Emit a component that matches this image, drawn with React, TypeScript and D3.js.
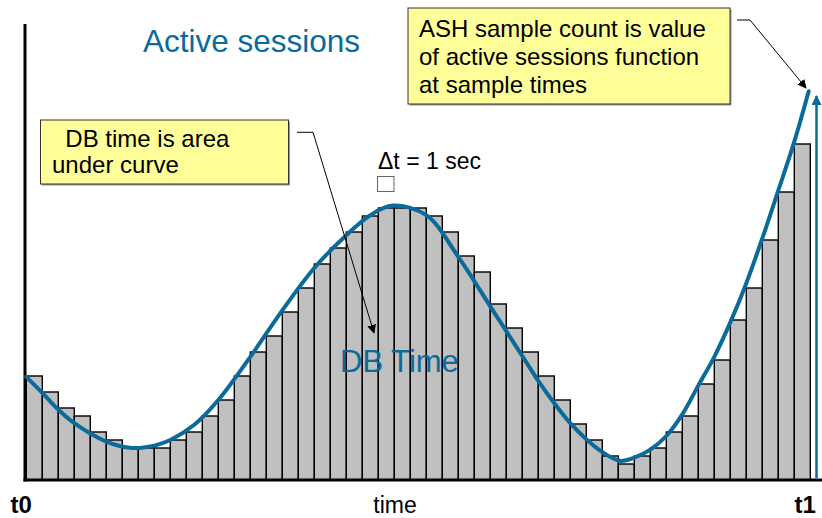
import { useEffect, useRef } from "react";
import * as d3 from "d3";

// ASH sample counts, one per 1 sec sample
const sampleCounts = [13, 11, 9, 8, 6, 5, 4, 4, 4, 5, 6, 8, 10, 13, 16, 18, 21, 24, 27, 29, 31, 33, 34, 34, 34,
  33, 31, 28, 26, 22, 19, 16, 13, 10, 7, 5, 3, 2, 3, 4, 6, 8, 12, 15, 20, 24, 30, 36, 42];

// active sessions function
const curveTimes = [0, 1, 2, 3, 5, 6.6, 8, 9, 10.5, 12, 14, 16, 18, 20, 21.5, 22.9, 25, 27, 29, 30, 31, 32,
  33, 34, 35, 36, 37.1, 38, 39, 40, 41, 42, 43, 44, 45, 46, 47, 48, 48.9];
const curveValues = [12.9, 10.9, 8.8, 7.1, 4.8, 4.0, 4.3, 5.0, 6.9, 10.0, 15.4, 21.2, 26.5, 30.6, 33.1, 34.3, 33.1,
  27.9, 21.7, 18.6, 15.5, 12.4, 9.6, 7.1, 5.1, 3.5, 2.4, 2.8, 3.8, 5.5, 8.2, 11.8, 15.4, 19.7, 24.6, 30.2, 36.2,
  42.3, 48.6];

const boxLeftLines = ["  DB time is area", "under curve"];
const boxRightLines = ["ASH sample count is value", "of active sessions function", "at sample times"];

const W = 822, H = 518;
const BLUE = "#0a6b9b";
const FONT = "'Liberation Sans', Arial, sans-serif";

const App = () => {
  const ref = useRef<SVGSVGElement>(null);

  useEffect(() => {
    if (!ref.current) return;
    const svg = d3.select(ref.current);
    svg.selectAll("*").remove();

    const x = d3.scaleLinear().domain([0, sampleCounts.length]).range([26.3, 810.3]);
    const y = d3.scaleLinear().domain([0, 57]).range([480, 24]);

    const defs = svg.append("defs");
    defs.append("marker").attr("id", "blk").attr("viewBox", "0 0 10 10")
      .attr("refX", 9).attr("refY", 5).attr("markerWidth", 9).attr("markerHeight", 9)
      .attr("markerUnits", "userSpaceOnUse").attr("orient", "auto")
      .append("path").attr("d", "M0,0 L10,5 L0,10 z").attr("fill", "#000");
    defs.append("marker").attr("id", "blu").attr("viewBox", "0 0 10 10")
      .attr("refX", 9).attr("refY", 5).attr("markerWidth", 10).attr("markerHeight", 10)
      .attr("markerUnits", "userSpaceOnUse").attr("orient", "auto")
      .append("path").attr("d", "M0,0 L10,5 L0,10 z").attr("fill", BLUE);

    // bars
    svg.append("g").selectAll("rect")
      .data(sampleCounts)
      .enter().append("rect")
      .attr("x", (d, i) => x(i))
      .attr("y", d => y(d))
      .attr("width", x(1) - x(0))
      .attr("height", d => y(0) - y(d))
      .attr("fill", "#c0c0c0")
      .attr("stroke", "#000")
      .attr("stroke-width", 1.4);

    // axes
    svg.append("line").attr("x1", x(0) - 1.3).attr("x2", x(0) - 1.3)
      .attr("y1", y(57)).attr("y2", y(0) + 1.5)
      .attr("stroke", "#000").attr("stroke-width", 3);
    svg.append("line").attr("x1", x(0) - 2.8).attr("x2", W)
      .attr("y1", y(0)).attr("y2", y(0))
      .attr("stroke", "#000").attr("stroke-width", 3);

    // active sessions curve
    const line = d3.line<number>()
      .x((d, i) => x(curveTimes[i]))
      .y(d => y(d))
      .curve(d3.curveCatmullRom.alpha(0.5));
    svg.append("path").attr("d", line(curveValues))
      .attr("fill", "none").attr("stroke", BLUE).attr("stroke-width", 4)
      .attr("stroke-linecap", "round");

    // sample arrow at t1
    svg.append("line").attr("x1", 816.5).attr("x2", 816.5)
      .attr("y1", y(0) - 2).attr("y2", 96)
      .attr("stroke", BLUE).attr("stroke-width", 2.5).attr("marker-end", "url(#blu)");

    // yellow callouts
    const callout = (bx: number, by: number, bw: number, bh: number, lines: string[], tx: number, ty: number, lh: number) => {
      svg.append("rect").attr("x", bx + 1.5).attr("y", by + 1.5).attr("width", bw).attr("height", bh).attr("fill", "#999");
      svg.append("rect").attr("x", bx).attr("y", by).attr("width", bw).attr("height", bh)
        .attr("fill", "#ffff99").attr("stroke", "#333").attr("stroke-width", 1);
      svg.append("g").selectAll("text").data(lines).enter().append("text")
        .attr("x", tx).attr("y", (d, i) => ty + i * lh)
        .attr("font-family", FONT).attr("font-size", 24).attr("fill", "#000")
        .attr("xml:space", "preserve")
        .style("white-space", "pre")
        .text(d => d);
    };
    callout(40.5, 120, 248, 64, boxLeftLines, 52, 146.5, 26.7);
    callout(408, 8, 322, 96, boxRightLines, 419, 36.5, 28.3);

    // leader lines
    svg.append("path").attr("d", "M297,132.3 L313,132.3 L374,333")
      .attr("fill", "none").attr("stroke", "#000").attr("stroke-width", 1).attr("marker-end", "url(#blk)");
    svg.append("path").attr("d", "M737,20 L750,20 L806,88")
      .attr("fill", "none").attr("stroke", "#000").attr("stroke-width", 1).attr("marker-end", "url(#blk)");

    // labels
    svg.append("text").attr("x", 143).attr("y", 52.3)
      .attr("font-family", FONT).attr("font-size", 31.5).attr("fill", BLUE).text("Active sessions");
    svg.append("text").attr("x", 340).attr("y", 371.5)
      .attr("font-family", FONT).attr("font-size", 31).attr("fill", BLUE).text("DB Time");
    svg.append("text").attr("x", 378).attr("y", 169.3)
      .attr("font-family", FONT).attr("font-size", 23).attr("fill", "#000").text("\u0394t = 1 sec");
    svg.append("rect").attr("x", 377.5).attr("y", 176.5).attr("width", 16.5).attr("height", 15)
      .attr("fill", "#fff").attr("stroke", "#666").attr("stroke-width", 1);

    svg.append("text").attr("x", 10.5).attr("y", 513)
      .attr("font-family", FONT).attr("font-size", 24).attr("font-weight", "bold").text("t0");
    svg.append("text").attr("x", 794.5).attr("y", 513)
      .attr("font-family", FONT).attr("font-size", 24).attr("font-weight", "bold").text("t1");
    svg.append("text").attr("x", 395).attr("y", 513)
      .attr("font-family", FONT).attr("font-size", 23).attr("text-anchor", "middle").text("time");
  }, []);

  return (
    <svg ref={ref} width={W} height={H}
      style={{ position: "absolute", left: 0, top: 0, background: "#fff" }} />
  );
};

export default App;
